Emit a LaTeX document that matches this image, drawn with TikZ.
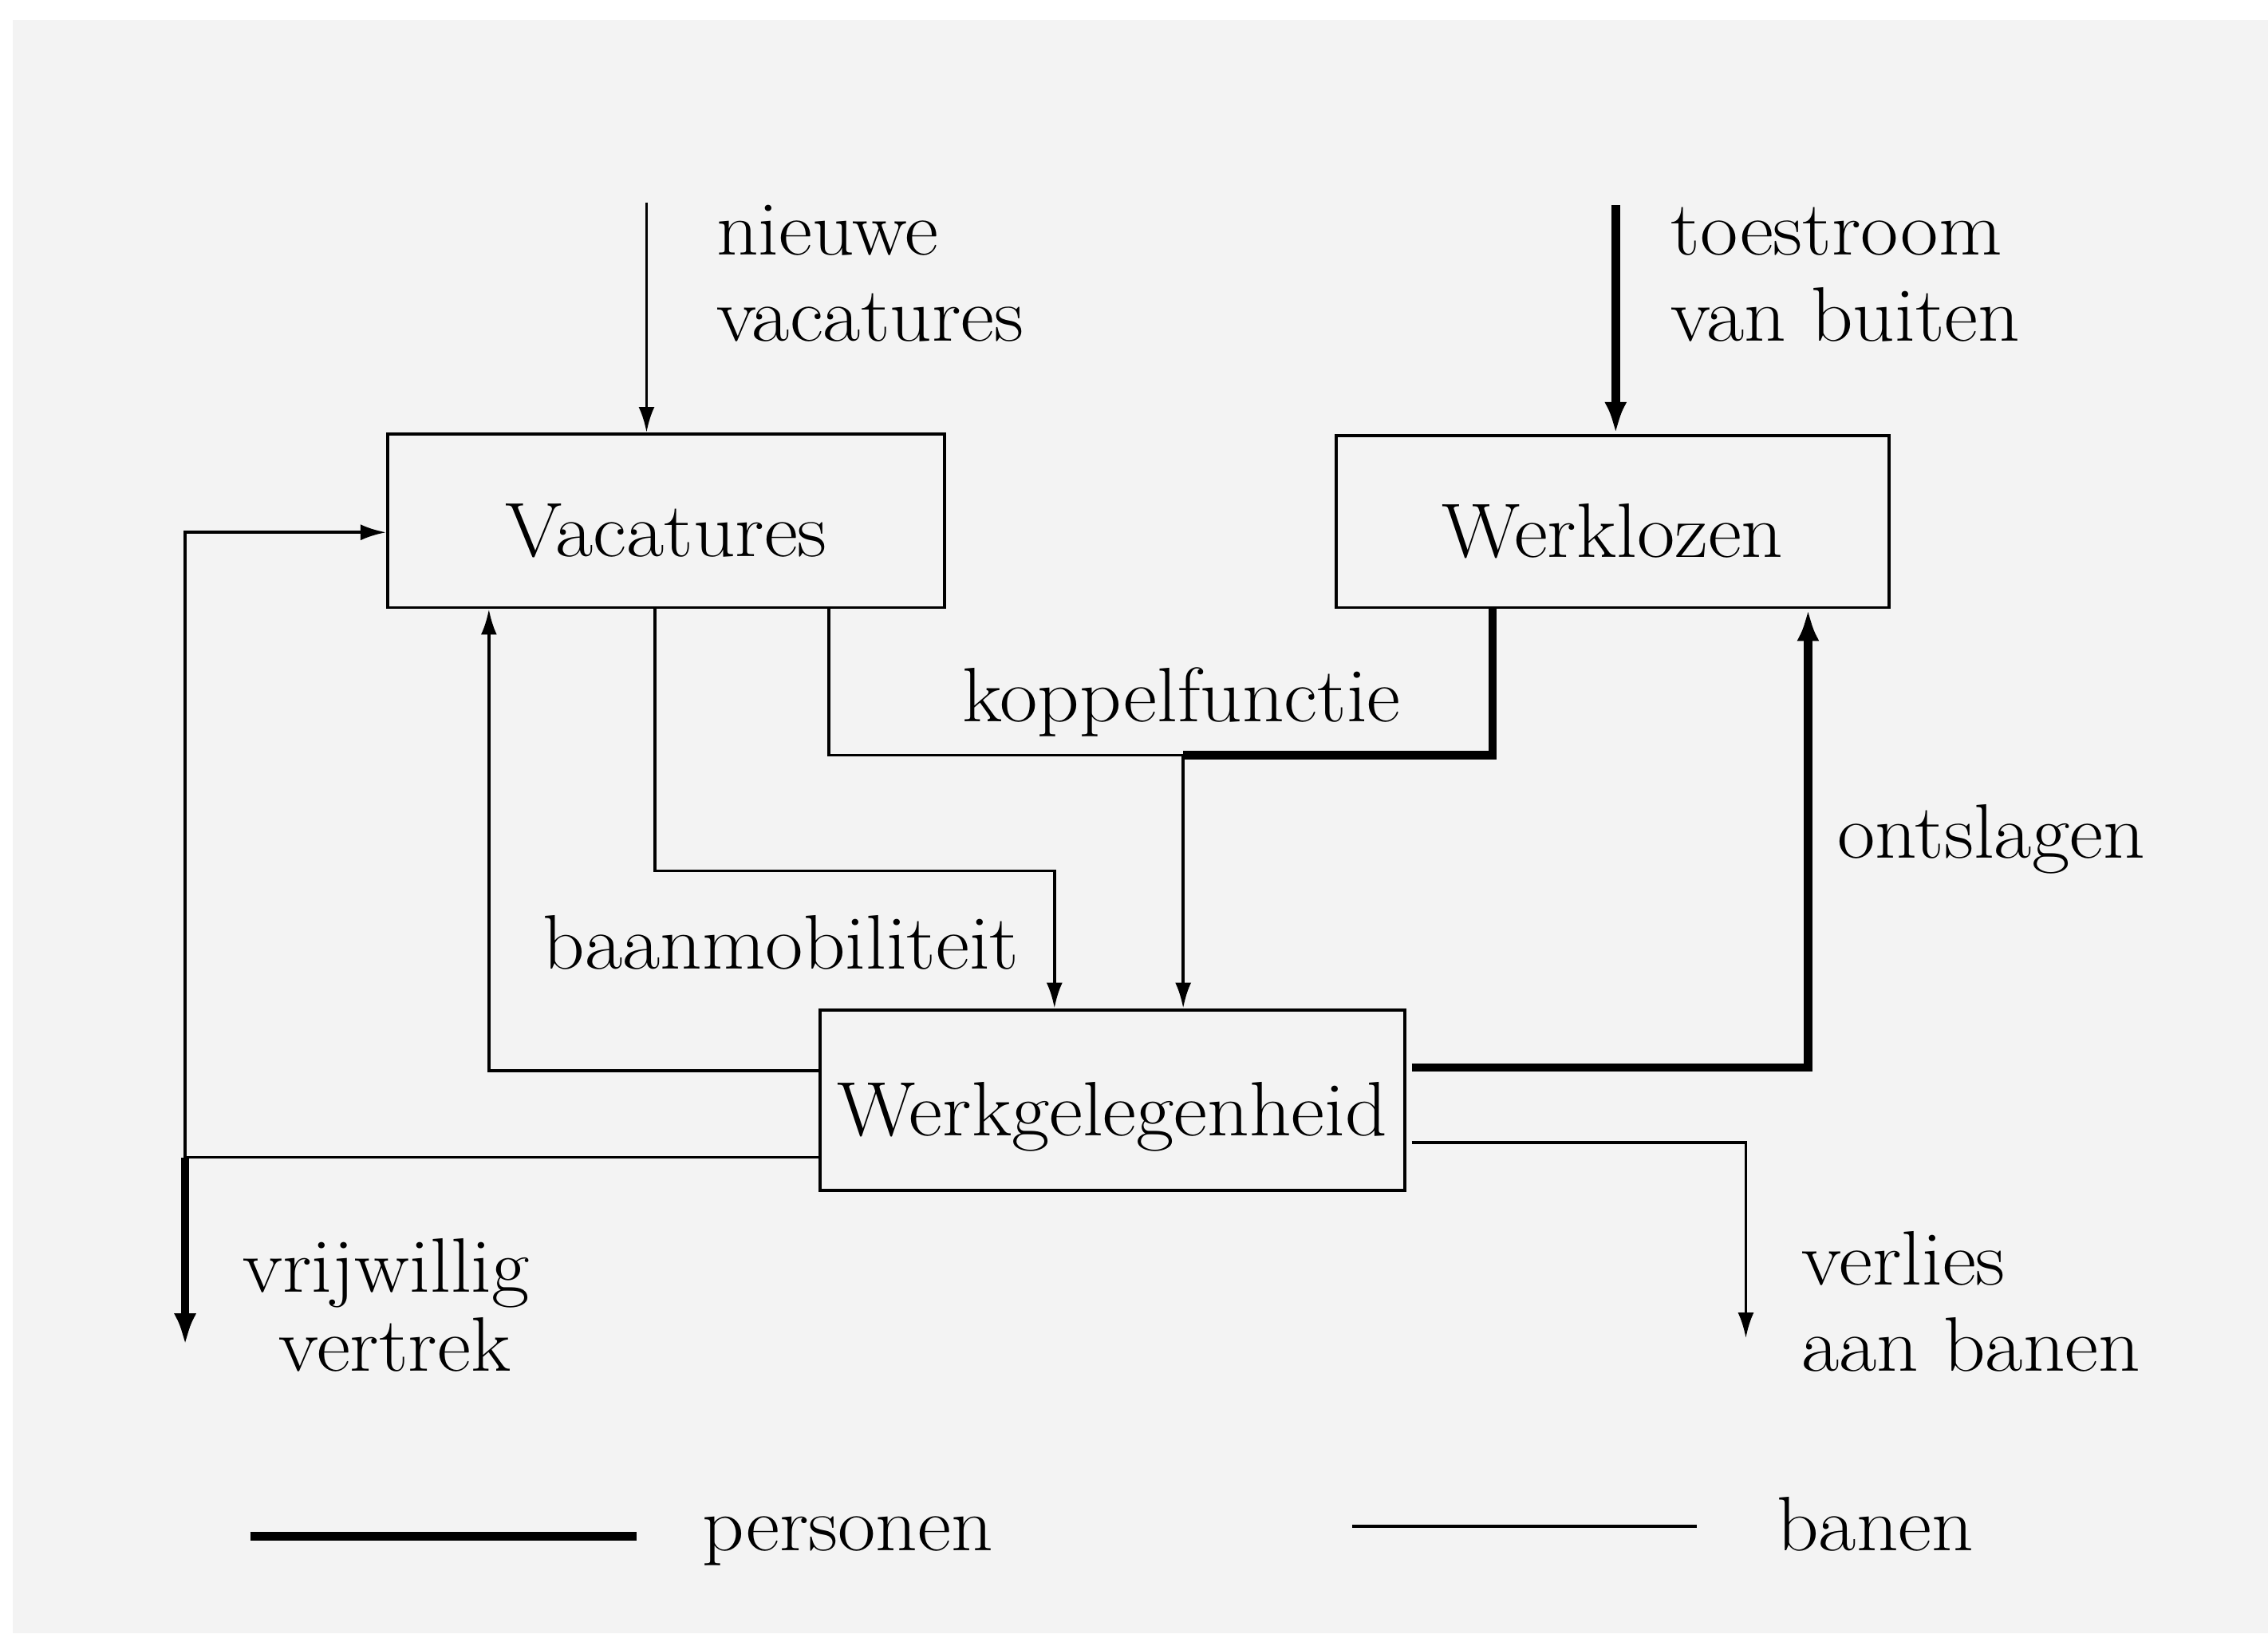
\documentclass[tikz,border=0pt]{standalone}
\usepackage{fontspec}
\setmainfont{Latin Modern Roman}[FakeStretch=1.065]
\usetikzlibrary{arrows.meta}
\definecolor{bg}{RGB}{243,243,243}
\begin{document}
\begin{tikzpicture}[x=0.018131cm, y=-0.018131cm,
  txt/.style={font=\fontsize{27.5}{30.5}\selectfont, inner sep=0pt},
  lbl/.style={txt, anchor=base west},
  box/.style={txt, draw, line width=1.1pt, text height=25.5pt, text depth=0pt},
  banen/.style={line width=1.1pt, line join=miter},
  personen/.style={line width=3pt, line join=miter},
  tipthin/.style={-{Latex[length=0.32cm,width=0.2cm]}},
  tipthick/.style={-{Latex[length=0.4cm,width=0.28cm]}}]
\useasboundingbox (0,0) rectangle (1568,1129);
\fill[white] (0,0) rectangle (1568,1129);
\fill[bg] (9,14) rectangle (1568,1129);

% boxes
\node[box, minimum width=385*0.018131cm, minimum height=120*0.018131cm] (vac) at (460.5,360) {Vacatures};
\node[box, minimum width=382*0.018131cm, minimum height=119*0.018131cm] (wkl) at (1115,360.5) {Werklozen};
\node[box, minimum width=404*0.018131cm, minimum height=125*0.018131cm] (wg) at (769,760.5) {Werkgelegenheid};

% labels
\node[lbl] (nv1) at (495,176) {nieuwe};
\node[lbl] (nv2) at (495,236) {vacatures};
\node[lbl] (ts1) at (1155,176) {toestroom};
\node[lbl] (ts2) at (1155,236) {van buiten};
\node[lbl] (kf) at (665,499) {koppelfunctie};
\node[lbl] (bm) at (375,670) {baanmobiliteit};
\node[lbl] (os) at (1270,593) {ontslagen};
\node[txt, anchor=base] (vw1) at (267,893) {vrijwillig};
\node[txt, anchor=base] (vw2) at (273,948) {vertrek};
\node[lbl] (vl1) at (1245,888) {verlies};
\node[lbl] (vl2) at (1245,948) {aan banen};
\node[lbl] (lgp) at (485,1072) {personen};
\node[lbl] (lgb) at (1228,1072) {banen};

% coordinates
\coordinate (nvs) at (447,140);
\coordinate (tss) at (1117,142);
\coordinate (vlc) at (128,368);
\coordinate (vdc) at (128,800);
\coordinate (vec) at (128,930);
\coordinate (bm1) at (338,740);
\coordinate (bm2) at (453,602);
\coordinate (bm3) at (729,602);
\coordinate (k1) at (573,522);
\coordinate (k2) at (818,522);
\coordinate (k3) at (1032,522);
\coordinate (o1) at (1250,738);
\coordinate (v1) at (1207,790);
\coordinate (v2) at (1207,925);
\coordinate (lp1) at (173,1062);
\coordinate (lp2) at (440,1062);
\coordinate (lb1) at (935,1055);
\coordinate (lb2) at (1173,1055);

% inflows
\draw[banen, tipthin] (nvs) -- (nvs |- vac.north);
\draw[personen, tipthick] (tss) -- (tss |- wkl.north);

% voluntary departure loop
\draw[banen] (wg.west |- vdc) -- (vdc);
\draw[personen, tipthick] (vdc) -- (vec);
\draw[banen, tipthin] (vdc) -- (vlc) -- (vac.west |- vlc);

% werkgelegenheid -> vacatures
\draw[banen, tipthin] (wg.west |- bm1) -- (bm1) -- (bm1 |- vac.south);
% baanmobiliteit
\draw[banen, tipthin] (vac.south -| bm2) -- (bm2) -- (bm3) -- (bm3 |- wg.north);
% koppelfunctie
\draw[banen] (vac.south -| k1) -- (k1) -- (k2);
\draw[personen] (wkl.south -| k3) -- (k3) -- (k2);
\draw[banen, tipthin] (k2) -- (k2 |- wg.north);
% ontslagen
\draw[personen, tipthick] ([xshift=2pt]wg.east |- o1) -- (o1) -- (o1 |- wkl.south);
% verlies aan banen
\draw[banen, tipthin] ([xshift=2pt]wg.east |- v1) -- (v1) -- (v2);

% legend
\draw[personen] (lp1) -- (lp2);
\draw[banen] (lb1) -- (lb2);
\end{tikzpicture}
\end{document}
